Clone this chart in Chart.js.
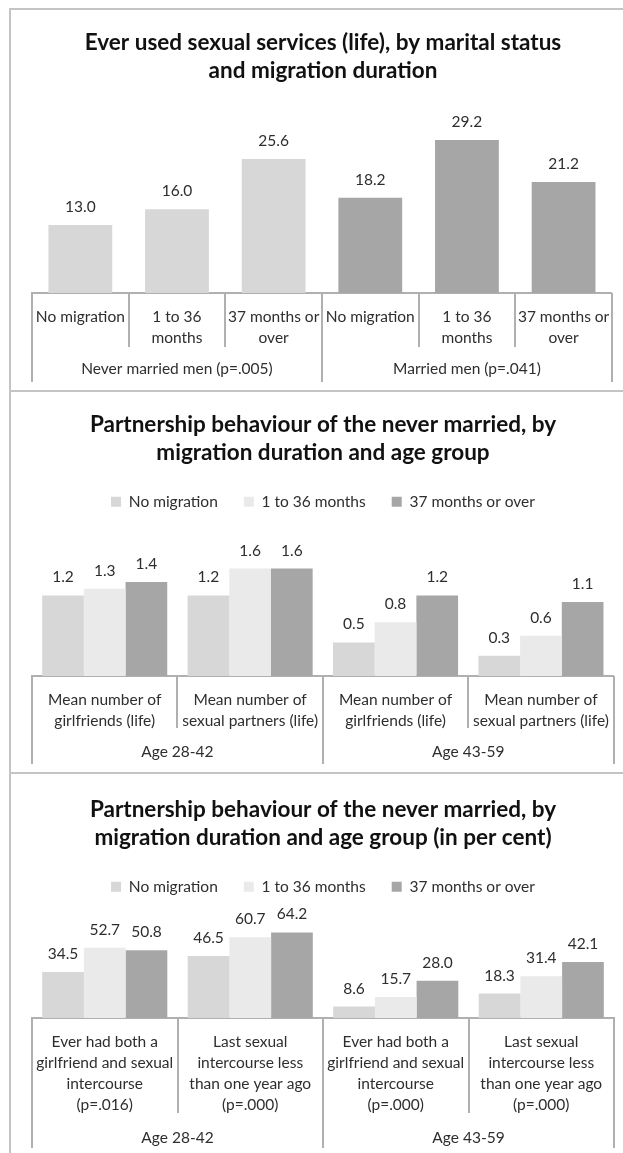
<!DOCTYPE html>
<html>
<head>
<meta charset="utf-8">
<script src="https://cdn.jsdelivr.net/npm/chart.js@4.4.0/dist/chart.umd.min.js"></script>
<style>
  body { margin: 0; background: #fff; width: 623px; height: 1153px; overflow: hidden; position: relative; }
  .panel { position: absolute; left: 9px; width: 640px; border: 2px solid #c4c4c4; border-right: none; box-sizing: border-box; }
  canvas { position: absolute; left: 11px; }
</style>
</head>
<body>
<div class="panel" style="top:8px;height:384px"></div>
<div class="panel" style="top:390px;height:384px"></div>
<div class="panel" style="top:772px;height:420px"></div>
<canvas id="chart1" width="612" height="380" style="top:10px"></canvas>
<canvas id="chart2" width="612" height="380" style="top:392px"></canvas>
<canvas id="chart3" width="612" height="379" style="top:774px"></canvas>
<script>
// ---- data ----
const seriesNames = ['No migration', '1 to 36 months', '37 months or over'];
const seriesColors = ['#d7d7d7', '#eaeaea', '#a6a6a6'];

// panel 1
const p1Title = ['Ever used sexual services (life), by marital status', 'and migration duration'];
const p1Categories = [['No migration'], ['1 to 36', 'months'], ['37 months or', 'over'],
                      ['No migration'], ['1 to 36', 'months'], ['37 months or', 'over']];
const p1Values = [13.0, 16.0, 25.6, 18.2, 29.2, 21.2];
const p1Groups = ['Never married men (p=.005)', 'Married men (p=.041)'];
const p1GroupSizes = [3, 3];

// panel 2
const p2Title = ['Partnership behaviour of the never married, by', 'migration duration and age group'];
const p2Categories = [['Mean number of', 'girlfriends (life)'], ['Mean number of', 'sexual partners (life)'],
                      ['Mean number of', 'girlfriends (life)'], ['Mean number of', 'sexual partners (life)']];
const p2NoMigration = [1.2, 1.2, 0.5, 0.3];
const p2Short = [1.3, 1.6, 0.8, 0.6];
const p2Long = [1.4, 1.6, 1.2, 1.1];
const ageGroups = ['Age 28-42', 'Age 43-59'];
const ageGroupSizes = [2, 2];

// panel 3
const p3Title = ['Partnership behaviour of the never married, by', 'migration duration and age group (in per cent)'];
const p3Categories = [
  ['Ever had both a', 'girlfriend and sexual', 'intercourse', '(p=.016)'],
  ['Last sexual', 'intercourse less', 'than one year ago', '(p=.000)'],
  ['Ever had both a', 'girlfriend and sexual', 'intercourse', '(p=.000)'],
  ['Last sexual', 'intercourse less', 'than one year ago', '(p=.000)']
];
const p3NoMigration = [34.5, 46.5, 8.6, 18.3];
const p3Short = [52.7, 60.7, 15.7, 31.4];
const p3Long = [50.8, 64.2, 28.0, 42.1];

const FONT = 'Lato, "Liberation Sans", sans-serif';
const TEXT = '#2e2e2e';
const LINE = '#b0b0b0';
const BODY_SIZE = 15.5;

// value labels above every bar
const valueLabels = {
  id: 'valueLabels',
  afterDatasetsDraw(chart) {
    const ctx = chart.ctx;
    ctx.save();
    ctx.font = BODY_SIZE + 'px ' + FONT;
    ctx.fillStyle = TEXT;
    ctx.textAlign = 'center';
    ctx.textBaseline = 'middle';
    chart.data.datasets.forEach((ds, di) => {
      chart.getDatasetMeta(di).data.forEach((bar, i) => {
        ctx.fillText(ds.data[i].toFixed(1), bar.x, bar.y - 18);
      });
    });
    ctx.restore();
  }
};

// Excel-like table under the category axis: separators + group labels
const tableLines = {
  id: 'tableLines',
  afterDraw(chart, args, opts) {
    const x = chart.scales.x;
    const ctx = chart.ctx;
    const n = chart.data.labels.length;
    const half = (x.getPixelForValue(1) - x.getPixelForValue(0)) / 2;
    const edge = i => (i < n ? x.getPixelForValue(i) - half : x.getPixelForValue(n - 1) + half);
    const groupEdges = [0];
    opts.sizes.forEach(s => groupEdges.push(groupEdges[groupEdges.length - 1] + s));

    ctx.save();
    ctx.strokeStyle = LINE;
    ctx.lineWidth = 2;
    for (let i = 0; i <= n; i++) {
      const px = Math.round(edge(i));
      const len = groupEdges.includes(i) ? opts.outer : opts.inner;
      ctx.beginPath();
      ctx.moveTo(px, x.top);
      ctx.lineTo(px, x.top + len);
      ctx.stroke();
    }
    ctx.font = BODY_SIZE + 'px ' + FONT;
    ctx.fillStyle = TEXT;
    ctx.textAlign = 'center';
    ctx.textBaseline = 'middle';
    opts.groups.forEach((g, gi) => {
      const cx = (edge(groupEdges[gi]) + edge(groupEdges[gi + 1])) / 2;
      ctx.fillText(g, cx, x.top + opts.groupY);
    });
    ctx.restore();
  }
};

function makeChart(id, cfg) {
  return new Chart(document.getElementById(id), {
    type: 'bar',
    data: { labels: cfg.labels, datasets: cfg.datasets },
    plugins: [valueLabels, tableLines],
    options: {
      responsive: false,
      animation: false,
      layout: { padding: { left: 21, right: 9, top: 0, bottom: 0 } },
      datasets: { bar: { categoryPercentage: cfg.catPct, barPercentage: 1, borderWidth: 0 } },
      plugins: {
        title: {
          display: true,
          text: cfg.title,
          color: '#111',
          font: { family: FONT, size: 22.5, weight: 'bold', lineHeight: 28 / 22.5 },
          padding: { top: cfg.titleTop, bottom: cfg.titleBottom }
        },
        legend: {
          display: cfg.legend,
          labels: {
            color: TEXT,
            font: { family: FONT, size: BODY_SIZE },
            boxWidth: 10,
            boxHeight: 10,
            padding: 26
          }
        },
        tooltip: { enabled: false },
        tableLines: cfg.table
      },
      scales: {
        x: {
          grid: { display: false, drawTicks: false },
          border: { display: true, color: LINE, width: 2 },
          ticks: {
            color: TEXT,
            font: { family: FONT, size: BODY_SIZE, lineHeight: 21 / BODY_SIZE },
            padding: 13,
            maxRotation: 0,
            minRotation: 0,
            autoSkip: false
          },
          afterFit(scale) { scale.height = cfg.axisHeight; }
        },
        y: { display: false, min: 0, max: cfg.yMax }
      }
    }
  });
}

makeChart('chart1', {
  title: p1Title,
  labels: p1Categories,
  datasets: [{
    label: 'Ever used sexual services',
    data: p1Values,
    backgroundColor: p1Values.map((v, i) => (i < p1GroupSizes[0] ? seriesColors[0] : seriesColors[2]))
  }],
  legend: false,
  catPct: 0.66,
  titleTop: 19, titleBottom: 10,
  axisHeight: 97,
  yMax: 37.8,
  table: { groups: p1Groups, sizes: p1GroupSizes, inner: 54, outer: 89, groupY: 76 }
});

makeChart('chart2', {
  title: p2Title,
  labels: p2Categories,
  datasets: [
    { label: seriesNames[0], data: p2NoMigration, backgroundColor: seriesColors[0] },
    { label: seriesNames[1], data: p2Short, backgroundColor: seriesColors[1] },
    { label: seriesNames[2], data: p2Long, backgroundColor: seriesColors[2] }
  ],
  legend: true,
  catPct: 0.86,
  titleTop: 19, titleBottom: 1,
  axisHeight: 96,
  yMax: 2.33,
  table: { groups: ageGroups, sizes: ageGroupSizes, inner: 52, outer: 88, groupY: 76 }
});

makeChart('chart3', {
  title: p3Title,
  labels: p3Categories,
  datasets: [
    { label: seriesNames[0], data: p3NoMigration, backgroundColor: seriesColors[0] },
    { label: seriesNames[1], data: p3Short, backgroundColor: seriesColors[1] },
    { label: seriesNames[2], data: p3Long, backgroundColor: seriesColors[2] }
  ],
  legend: true,
  catPct: 0.86,
  titleTop: 22, titleBottom: 1,
  axisHeight: 135,
  yMax: 85.2,
  table: { groups: ageGroups, sizes: ageGroupSizes, inner: 95, outer: 130, groupY: 120 }
});
</script>
</body>
</html>
